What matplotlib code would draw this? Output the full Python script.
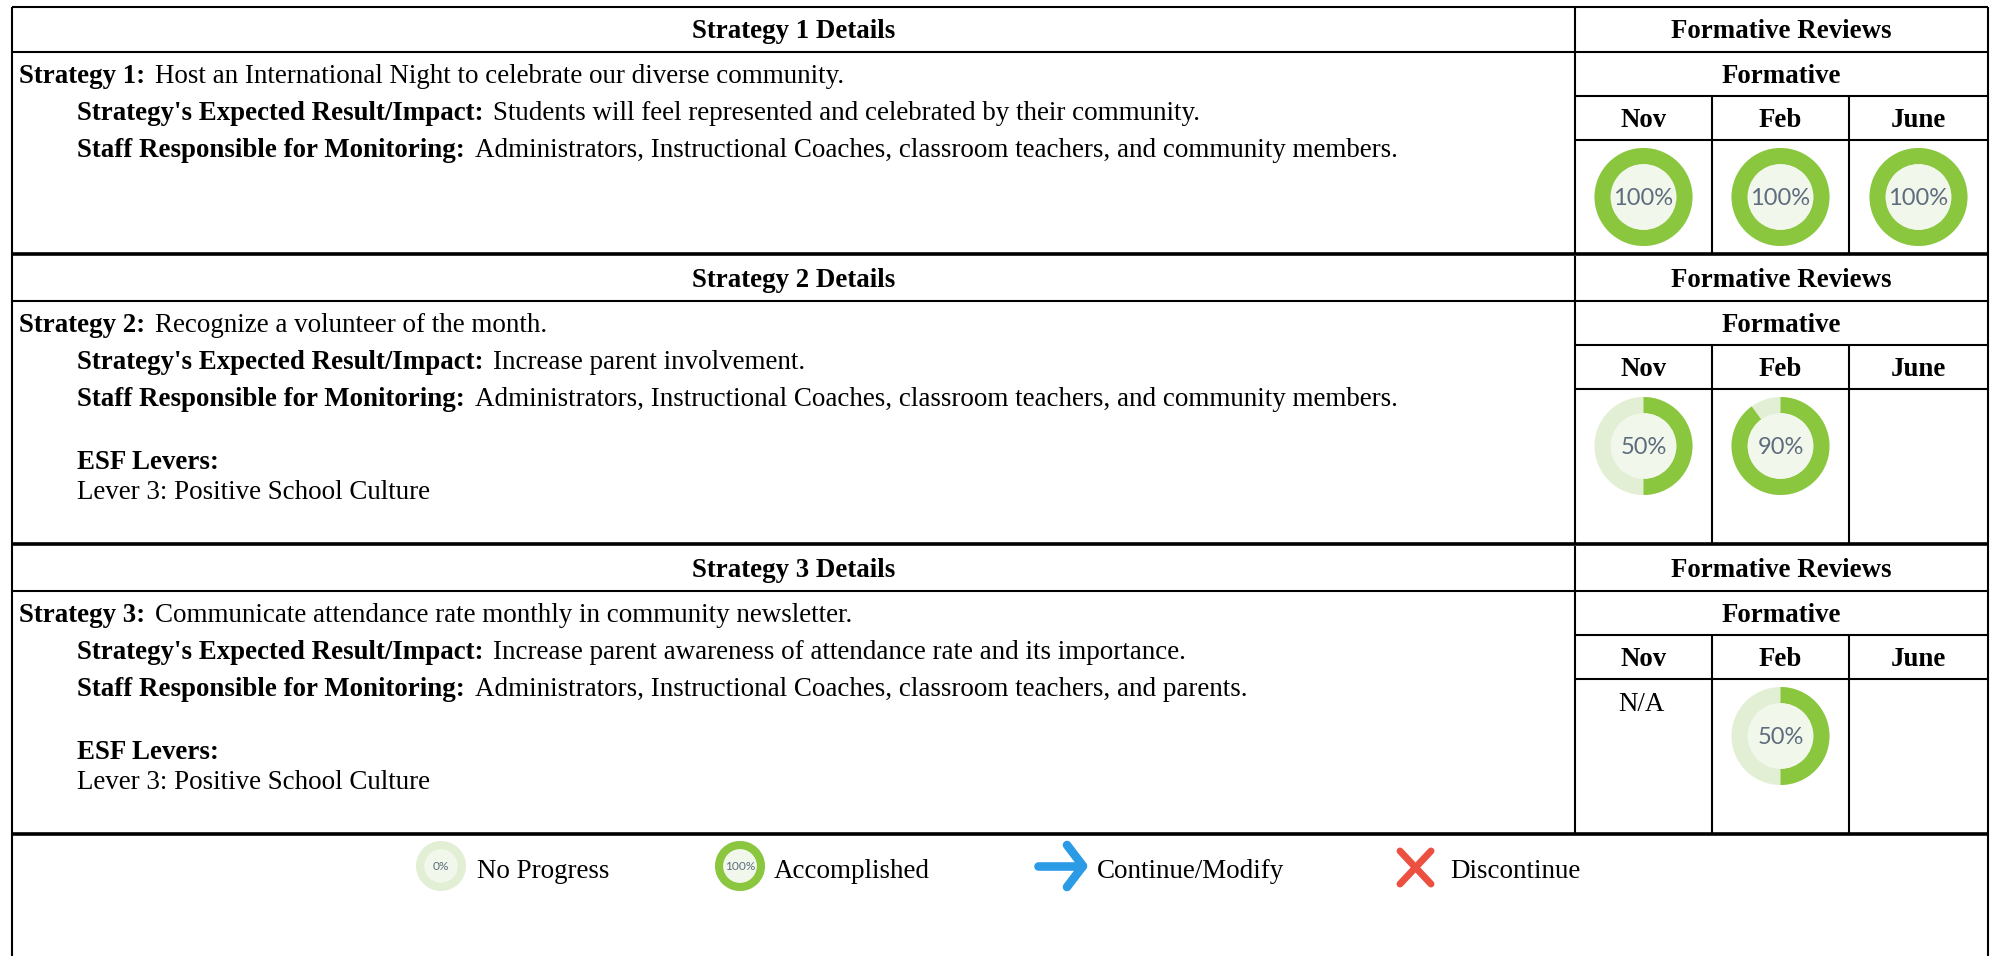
import matplotlib
matplotlib.use("Agg")
import matplotlib.pyplot as plt
from matplotlib.patches import Wedge, Circle

plt.rcParams['font.family'] = ['Liberation Serif', 'DejaVu Sans']

W, H = 1993, 956

# table content
strategy_names = ["Strategy 1:", "Strategy 2:", "Strategy 3:"]
strategy_text = ["Host an International Night to celebrate our diverse community.",
                 "Recognize a volunteer of the month.",
                 "Communicate attendance rate monthly in community newsletter."]
impact_text = ["Students will feel represented and celebrated by their community.",
               "Increase parent involvement.",
               "Increase parent awareness of attendance rate and its importance."]
staff_text = ["Administrators, Instructional Coaches, classroom teachers, and community members.",
              "Administrators, Instructional Coaches, classroom teachers, and community members.",
              "Administrators, Instructional Coaches, classroom teachers, and parents."]
levers = [None, "Lever 3: Positive School Culture", "Lever 3: Positive School Culture"]
months = ["Nov", "Feb", "June"]
# None = empty cell, "N/A" = text only
reviews = [[100, 100, 100], [50, 90, None], ["N/A", 50, None]]
legend_labels = ["No Progress", "Accomplished", "Continue/Modify", "Discontinue"]
legend_pct = [0, 100]

GREEN = "#8AC73E"
LIGHT = "#E2EFD4"
INNER = "#F1F7EA"
BLUE = "#2B9BE6"
RED = "#EB5040"
PCT_COL = "#5E6C7E"

# layout in pixels
left, right, split = 12, 1988, 1575
cols = [1575, 1712, 1849, 1988]
block_tops = [7, 256, 546]
block_ends = [254, 544, 834]
FS = 19.4
FS_PLAIN = 19.45

fig = plt.figure(figsize=(W / 100, H / 100), dpi=100)
ax = fig.add_axes([0, 0, 1, 1])
ax.set_xlim(0, W)
ax.set_ylim(H, 0)
ax.axis("off")


def hline(y, x0=left, x1=right, lw=1.5):
    ax.plot([x0, x1], [y, y], color="black", lw=lw, solid_capstyle="butt")


def vline(x, y0, y1, lw=1.5):
    ax.plot([x, x], [y0, y1], color="black", lw=lw, solid_capstyle="butt")


def two_part(x, y, bold, plain):
    # bold label followed by regular text on one baseline
    t = ax.text(x, y, bold, fontsize=FS, fontweight="bold", va="baseline", ha="left")
    bb = t.get_window_extent(fig.canvas.get_renderer())
    ax.text(bb.x1 + 10, y, plain, fontsize=FS_PLAIN, va="baseline", ha="left")


def donut(cx, cy, pct, r=49, fs=17, dy=1):
    ax.add_patch(Circle((cx, cy), r, color=LIGHT, lw=0))
    if pct > 0:
        # y axis runs downwards, so angles grow clockwise from the top
        ax.add_patch(Wedge((cx, cy), r, -90, -90 + 3.6 * pct, width=r * 0.33, color=GREEN, lw=0))
    ax.add_patch(Circle((cx, cy), r * 0.67, color=INNER, lw=0))
    ax.text(cx, cy + dy, f"{pct}%", fontsize=fs, family="Lato", color=PCT_COL, ha="center", va="center")


for i in range(3):
    top = block_tops[i]
    end = block_ends[i]
    hdr = top + 45
    frm = top + 89
    mon = top + 133
    hline(hdr)
    hline(frm, x0=split)
    hline(mon, x0=split)
    vline(split, top, end)
    vline(cols[1], frm, end)
    vline(cols[2], frm, end)
    hline(end, lw=2.6)

    ax.text((left + split) / 2, top + 31, f"Strategy {i + 1} Details", fontsize=FS,
            fontweight="bold", ha="center", va="baseline")
    ax.text((split + right) / 2, top + 31, "Formative Reviews", fontsize=FS,
            fontweight="bold", ha="center", va="baseline")
    ax.text((split + right) / 2, top + 76, "Formative", fontsize=FS,
            fontweight="bold", ha="center", va="baseline")
    for j, m in enumerate(months):
        ax.text((cols[j] + cols[j + 1]) / 2, top + 120, m, fontsize=FS, fontweight="bold",
                ha="center", va="baseline")
        val = reviews[i][j]
        cx = (cols[j] + cols[j + 1]) / 2
        if val == "N/A":
            ax.text(cx - 2, mon + 32, val, fontsize=FS_PLAIN, ha="center", va="baseline")
        elif val is not None:
            donut(cx, top + 190, val)

    two_part(19, top + 76, strategy_names[i], strategy_text[i])
    two_part(77, top + 113, "Strategy's Expected Result/Impact:", impact_text[i])
    two_part(77, top + 150, "Staff Responsible for Monitoring:", staff_text[i])
    if levers[i]:
        ax.text(77, top + 213, "ESF Levers:", fontsize=FS, fontweight="bold", va="baseline")
        ax.text(77, top + 243, levers[i], fontsize=FS_PLAIN, va="baseline")

# outer frame, open at the bottom edge
hline(7)
vline(left, 7, H)
vline(right, 7, H)

# legend
for cx, pct in zip([441, 740], legend_pct):
    donut(cx, 866, pct, r=25, fs=8.6, dy=0)

ax.plot([1038, 1082], [866, 866], color=BLUE, lw=6.2, solid_capstyle="round")
ax.plot([1067, 1083, 1067], [845, 866, 887], color=BLUE, lw=6.2, solid_capstyle="round",
        solid_joinstyle="round")
ax.plot([1400, 1431], [851, 884], color=RED, lw=5, solid_capstyle="round")
ax.plot([1431, 1400], [851, 884], color=RED, lw=5, solid_capstyle="round")

for x, lab in zip([477, 774, 1097, 1450], legend_labels):
    ax.text(x, 878, lab, fontsize=FS_PLAIN, va="baseline", ha="left")

fig.savefig("out.png", dpi=100)
